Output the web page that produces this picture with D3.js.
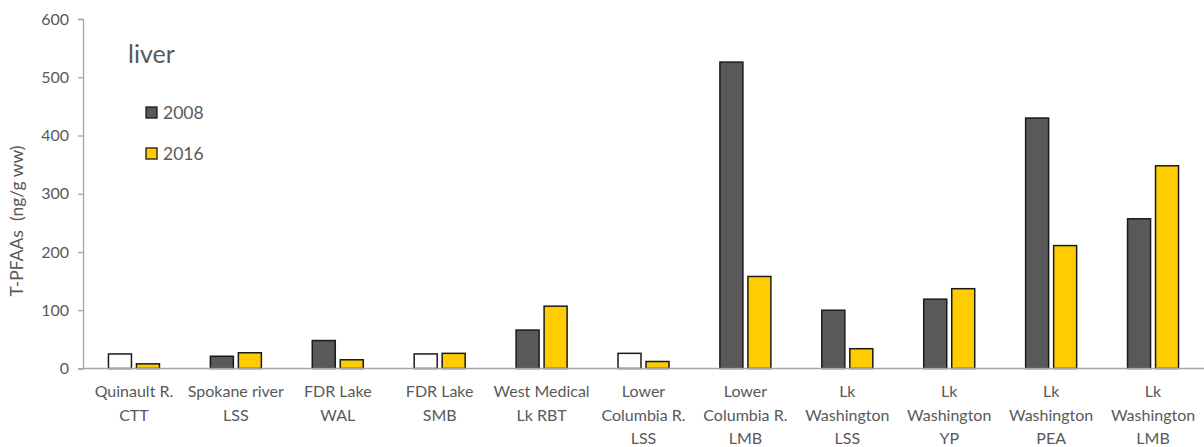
<!DOCTYPE html>
<html><head><meta charset="utf-8">
<script src="https://cdn.jsdelivr.net/npm/d3@7"></script>
<style>body{margin:0;background:#fff}svg text{font-family:Lato,"Open Sans",sans-serif;fill:#595959}</style>
</head><body><svg id="c" width="1204" height="447"></svg>
<script>
const categories = [
  ["Quinault R.","CTT"],["Spokane river","LSS"],["FDR Lake","WAL"],["FDR Lake","SMB"],
  ["West Medical","Lk RBT"],["Lower","Columbia R.","LSS"],["Lower","Columbia R.","LMB"],
  ["Lk","Washington","LSS"],["Lk","Washington","YP"],["Lk","Washington","PEA"],["Lk","Washington","LMB"]
];
const values2008 = [25, 21, 48, 25, 66, 26, 526, 100, 119, 430, 257];
const hollow2008 = [true, false, false, true, false, true, false, false, false, false, false];
const values2016 = [8, 27, 15, 26, 107, 12, 158, 34, 137, 211, 348];
const yTicks = [0,100,200,300,400,500,600];
const seriesNames = ["2008","2016"];

const svg = d3.select("#c");
const x0 = 83, x1 = 1204, yTop = 19, yBot = 368.5;
const x = d3.scaleBand().domain(d3.range(categories.length)).range([x0, x1]);
const y = d3.scaleLinear().domain([0,600]).range([yBot, yTop]);
const bw = 23, gap = 5;

// y axis
const ya = svg.append("g").attr("transform",`translate(${x0},0)`)
  .call(d3.axisLeft(y).tickValues(yTicks).tickSize(5).tickPadding(9));
ya.select(".domain").attr("stroke","#a6a6a6").attr("stroke-width",1.3);
ya.selectAll(".tick line").attr("stroke","#a6a6a6").attr("stroke-width",1.3);
ya.selectAll(".tick text").attr("font-size",16).attr("font-family",null).style("fill","#595959");

// bars
const g = svg.append("g");
categories.forEach((c,i)=>{
  const cx = x(i) + x.bandwidth()/2;
  g.append("rect").attr("x", cx - gap/2 - bw).attr("width", bw)
    .attr("y", y(values2008[i])).attr("height", yBot - y(values2008[i]))
    .attr("fill", hollow2008[i] ? "#ffffff" : "#595959")
    .attr("stroke","#1a1a1a").attr("stroke-width",1.5);
  g.append("rect").attr("x", cx + gap/2).attr("width", bw)
    .attr("y", y(values2016[i])).attr("height", yBot - y(values2016[i]))
    .attr("fill", "#ffcc00")
    .attr("stroke","#1a1a1a").attr("stroke-width",1.5);
});

// x axis line
svg.append("line").attr("x1",x0).attr("x2",x1).attr("y1",yBot).attr("y2",yBot)
  .attr("stroke","#a6a6a6").attr("stroke-width",1.5);

// x labels
categories.forEach((c,i)=>{
  const cx = x(i) + x.bandwidth()/2;
  const t = svg.append("text").attr("text-anchor","middle").attr("font-size",16);
  c.forEach((line,j)=>{
    t.append("tspan").attr("x",cx).attr("y",397 + j*23.5).text(line);
  });
});

// y title
svg.append("text").attr("transform","translate(23,221) rotate(-90)")
  .attr("text-anchor","middle").attr("font-size",17.5).attr("xml:space","preserve")
  .text("T-PFAAs  (ng/g ww)");

// panel label
svg.append("text").attr("x",128).attr("y",63).attr("font-size",25).text("liver");

// legend
const legColors = ["#595959","#ffcc00"];
seriesNames.forEach((s,i)=>{
  const ly = 107 + i*41;
  svg.append("rect").attr("x",146).attr("y",ly).attr("width",11).attr("height",11)
    .attr("fill",legColors[i]).attr("stroke","#1a1a1a").attr("stroke-width",1.3);
  svg.append("text").attr("x",163).attr("y",ly+12).attr("font-size",17.5).text(s);
});
</script></body></html>
